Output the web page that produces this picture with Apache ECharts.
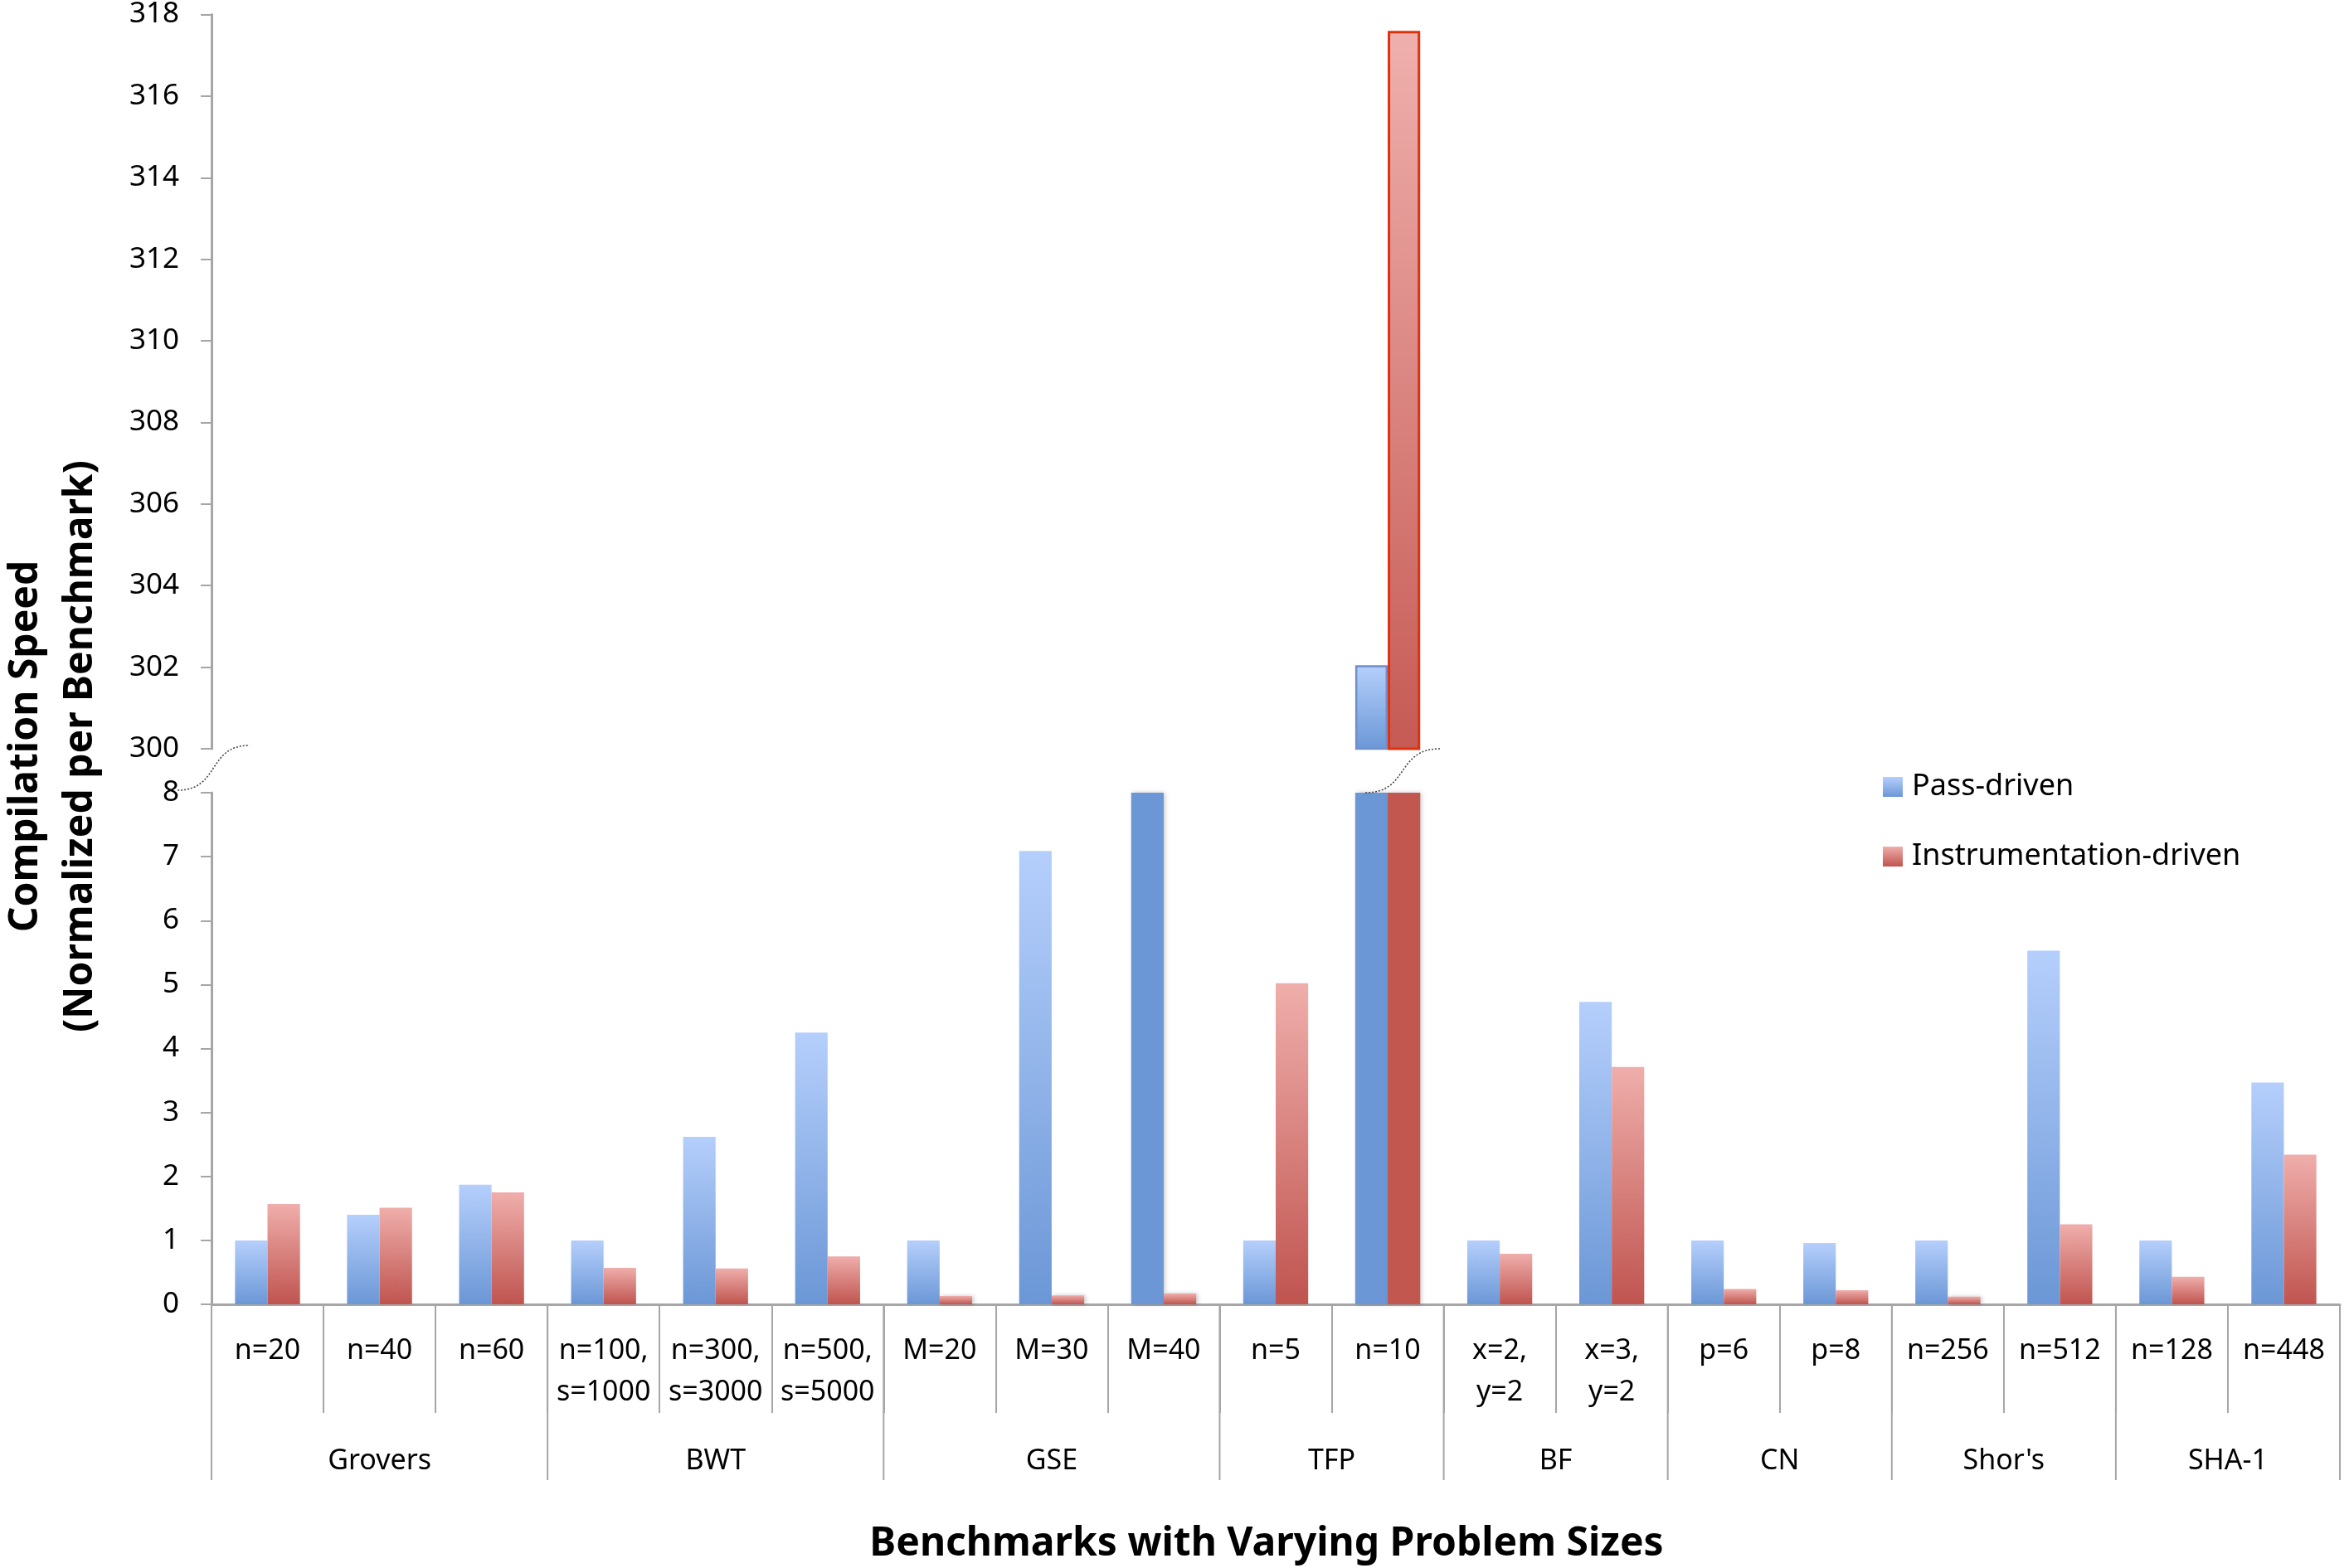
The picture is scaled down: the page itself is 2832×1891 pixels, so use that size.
<!DOCTYPE html>
<html>
<head>
<meta charset="utf-8">
<script src="https://cdn.jsdelivr.net/npm/echarts@6/dist/echarts.min.js"></script>
<style>
html,body{margin:0;padding:0;background:#fff;}
#chart{width:2832px;height:1891px;}
</style>
</head>
<body>
<div id="chart"></div>
<script>
// ---- data ----
const categories = ['n=20','n=40','n=60','n=100,\ns=1000','n=300,\ns=3000','n=500,\ns=5000','M=20','M=30','M=40','n=5','n=10','x=2,\ny=2','x=3,\ny=2','p=6','p=8','n=256','n=512','n=128','n=448'];
const groupNames = ['Grovers','BWT','GSE','TFP','BF','CN',"Shor's",'SHA-1'];
const groupRanges = [[0,3],[3,6],[6,9],[9,11],[11,13],[13,15],[15,17],[17,19]];
const passDriven = [1.0,1.40,1.87,1.0,2.62,4.25,1.0,7.09,10,1.0,302.05,1.0,4.73,1.0,0.96,1.0,5.53,1.0,3.47];
const instrDriven = [1.57,1.51,1.75,0.57,0.56,0.75,0.13,0.14,0.17,5.02,317.6,0.79,3.71,0.24,0.22,0.12,1.25,0.43,2.34];
const upperTicks = {min:300, max:318, interval:2};
const lowerTicks = {min:0, max:8, interval:1};

// ---- style ----
const FONT = "'Noto Sans', 'Open Sans', sans-serif";
const AXIS_GRAY = '#a6a6a6';
const G = {left:255, right:11, upperTop:13, upperBottom:903, lowerTop:956, lowerBottom:1573};

const chart = echarts.init(document.getElementById('chart'), null, {renderer:'canvas'});

function grad(top, bottom){
  return new echarts.graphic.LinearGradient(0,0,0,1,[{offset:0,color:top},{offset:1,color:bottom}]);
}
const BLUE_TOP='#b5cffc', BLUE_BOT='#6b97d6', BLUE_SOLID='#6b97d6';
const RED_TOP='#efaeab', RED_BOT='#c0544f', RED_SOLID='#c1574f';

function colorFn(max, top, bot, solid){
  return function(p){ return p.value > max ? solid : grad(top, bot); };
}

const shadow = {shadowColor:'rgba(0,0,0,0.22)', shadowBlur:5, shadowOffsetX:2, shadowOffsetY:0};

function yAxisCommon(grid, t){
  return {
    type:'value', gridIndex:grid, min:t.min, max:t.max, interval:t.interval,
    axisLine:{show:true, lineStyle:{color:AXIS_GRAY, width:3}},
    axisTick:{show:true, length:13, lineStyle:{color:AXIS_GRAY, width:2}},
    axisLabel:{color:'#000', fontSize:35, fontFamily:FONT, margin:39},
    splitLine:{show:false}
  };
}

const option = {
  backgroundColor:'#fff',
  animation:false,
  grid:[
    {left:G.left, right:G.right, top:G.upperTop, height:G.upperBottom-G.upperTop},
    {left:G.left, right:G.right, top:G.lowerTop, height:G.lowerBottom-G.lowerTop}
  ],
  xAxis:[
    {type:'category', gridIndex:0, data:categories, show:false},
    {type:'category', gridIndex:1, data:categories,
      axisLine:{show:true, lineStyle:{color:AXIS_GRAY, width:3}},
      axisTick:{show:true, interval:0, length:131, lineStyle:{color:AXIS_GRAY, width:2}},
      axisLabel:{interval:0, color:'#000', fontSize:34, fontFamily:FONT, lineHeight:50, margin:31, hideOverlap:false}
    }
  ],
  yAxis:[ yAxisCommon(0, upperTicks), yAxisCommon(1, lowerTicks) ],
  legend:{
    orient:'vertical', left:2270, top:931, itemWidth:24, itemHeight:24, itemGap:48, padding:0,
    textStyle:{color:'#000', fontSize:36, fontFamily:FONT, padding:[0,0,0,6]},
    data:[
      {name:'Pass-driven', icon:'rect', itemStyle:{color:grad(BLUE_TOP, BLUE_BOT)}},
      {name:'Instrumentation-driven', icon:'rect', itemStyle:{color:grad(RED_TOP, RED_BOT)}}
    ]
  },
  series:[
    {name:'Pass-driven', type:'bar', xAxisIndex:1, yAxisIndex:1, data:passDriven, clip:true,
      barGap:'0%', barCategoryGap:'42%',
      itemStyle:Object.assign({color:colorFn(lowerTicks.max, BLUE_TOP, BLUE_BOT, BLUE_SOLID)}, shadow)},
    {name:'Instrumentation-driven', type:'bar', xAxisIndex:1, yAxisIndex:1, data:instrDriven, clip:true,
      barGap:'0%', barCategoryGap:'42%',
      itemStyle:Object.assign({color:colorFn(lowerTicks.max, RED_TOP, RED_BOT, RED_SOLID)}, shadow)},
    {name:'Pass-driven', type:'bar', xAxisIndex:0, yAxisIndex:0, data:passDriven, clip:true,
      barGap:'0%', barCategoryGap:'42%',
      itemStyle:{color:grad(BLUE_TOP, BLUE_BOT), borderColor:'#6f8fc8', borderWidth:2.5}},
    {name:'Instrumentation-driven', type:'bar', xAxisIndex:0, yAxisIndex:0, data:instrDriven, clip:true,
      barGap:'0%', barCategoryGap:'42%',
      itemStyle:{color:grad('#efb0ad', '#c65a54'), borderColor:'#e0300e', borderWidth:3}},
    {type:'custom', xAxisIndex:1, yAxisIndex:1, data:groupRanges, silent:true, clip:false,
      encode:{x:[0,1]},
      renderItem:function(params, api){
        const s = api.value(0), e = api.value(1);
        const bw = api.size([1,0])[0];
        const p0 = api.coord([s, 0]);
        const p1 = api.coord([e-1, 0]);
        const xl = p0[0]-bw/2, xr = p1[0]+bw/2, y = p0[1];
        const children = [
          {type:'line', shape:{x1:xl, y1:y, x2:xl, y2:y+212}, style:{stroke:AXIS_GRAY, lineWidth:2}},
          {type:'text', x:(xl+xr)/2, y:y+189, style:{text:groupNames[params.dataIndex], align:'center', verticalAlign:'middle', fontSize:34, fontFamily:FONT, fill:'#000'}}
        ];
        if (params.dataIndex === groupRanges.length-1) {
          children.push({type:'line', shape:{x1:xr, y1:y, x2:xr, y2:y+212}, style:{stroke:AXIS_GRAY, lineWidth:2}});
        }
        return {type:'group', children:children};
      }
    }
  ],
  graphic:[
    {type:'text', x:64, y:900, rotation:Math.PI/2,
      style:{text:'Compilation Speed\n(Normalized per Benchmark)', align:'center', verticalAlign:'middle', fontSize:48, fontWeight:'bold', fontFamily:FONT, lineHeight:66, fill:'#000'}},
    {type:'text', x:1527, y:1862,
      style:{text:'Benchmarks with Varying Problem Sizes', align:'center', verticalAlign:'middle', fontSize:48, fontWeight:'bold', fontFamily:FONT, fill:'#000'}}
  ]
};
chart.setOption(option);

// break marks (decorations) positioned from the axes
const axisX = chart.convertToPixel({xAxisIndex:1}, 0) - chart.getModel().getComponent('xAxis',1).axis.getBandWidth()/2;
const yLowTop = chart.convertToPixel({yAxisIndex:1}, lowerTicks.max);
const yUpBot = chart.convertToPixel({yAxisIndex:0}, upperTicks.min);
const xN10 = chart.convertToPixel({xAxisIndex:1}, 10);
function sCurve(x1, y1, x2, y2){
  const mx = (x1+x2)/2;
  return {type:'bezierCurve', silent:true,
    shape:{x1:x1, y1:y1, x2:x2, y2:y2, cpx1:mx+8, cpy1:y1, cpx2:mx-8, cpy2:y2},
    style:{stroke:'#444', lineWidth:1.6, lineDash:[2,2], fill:null}, z:100};
}
chart.setOption({graphic: option.graphic.concat([
  sCurve(axisX-41, yLowTop-3, axisX+46, yUpBot-4),
  sCurve(xN10-27, yLowTop, xN10+63, yUpBot)
])});
</script>
</body>
</html>
